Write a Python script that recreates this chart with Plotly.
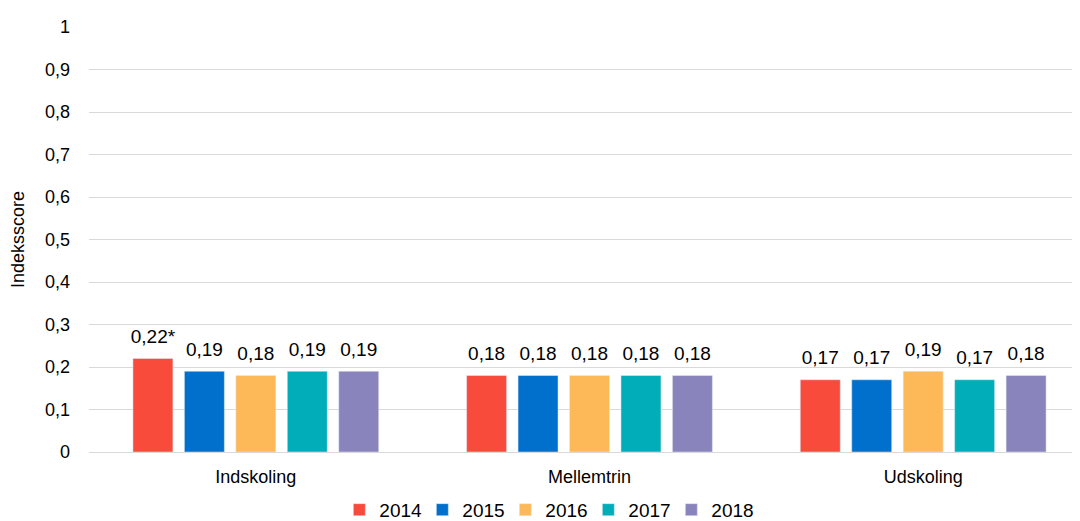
import plotly.graph_objects as go

categories = ['Indskoling', 'Mellemtrin', 'Udskoling']
years = ['2014', '2015', '2016', '2017', '2018']
values = {
    '2014': [0.22, 0.18, 0.17],
    '2015': [0.19, 0.18, 0.17],
    '2016': [0.18, 0.18, 0.19],
    '2017': [0.19, 0.18, 0.17],
    '2018': [0.19, 0.18, 0.18],
}
labels = {
    '2014': ['0,22*', '0,18', '0,17'],
    '2015': ['0,19', '0,18', '0,17'],
    '2016': ['0,18', '0,18', '0,19'],
    '2017': ['0,19', '0,18', '0,17'],
    '2018': ['0,19', '0,18', '0,18'],
}
colors = ['#F84B3C', '#0070CC', '#FDB858', '#00ADB8', '#8A84BC']

fig = go.Figure()
for year, color in zip(years, colors):
    fig.add_trace(go.Bar(
        name=year,
        x=categories,
        y=values[year],
        cliponaxis=False,
        marker=dict(color=color),
    ))

# value labels as grouped text points so they sit a bit higher above the bars
for year in years:
    fig.add_trace(go.Scatter(
        x=categories,
        y=values[year],
        text=labels[year],
        mode='markers+text',
        textposition='top center',
        textfont=dict(size=19, color='#000000'),
        marker=dict(size=16, color='rgba(0,0,0,0)'),
        showlegend=False,
        hoverinfo='skip',
        cliponaxis=False,
    ))

# page body has an 8px margin, so the figure is a bit smaller than the window
fig.update_layout(
    barmode='group',
    scattermode='group',
    bargap=0.229,
    scattergap=0.229,
    bargroupgap=0.223,
    separators=',.',
    width=1072,
    height=513,
    margin=dict(l=81, r=0, t=19, b=69, autoexpand=False),
    plot_bgcolor='white',
    paper_bgcolor='white',
    font=dict(family='Liberation Sans, Arial, sans-serif', size=18, color='#000000'),
    legend=dict(
        orientation='h',
        x=0.462,
        xanchor='center',
        y=-0.136,
        yanchor='middle',
        font=dict(size=19),
        entrywidth=38,
        entrywidthmode='pixels',
        traceorder='normal',
    ),
    yaxis=dict(
        title=dict(text='Indeksscore', font=dict(size=18), standoff=16),
        range=[0, 1],
        dtick=0.1,
        tickformat='.1~f',
        showgrid=True,
        gridcolor='#D9D9D9',
        gridwidth=1.3,
        zeroline=True,
        zerolinecolor='#D9D9D9',
        zerolinewidth=1.3,
        ticks='',
        ticklabelstandoff=18,
        automargin=False,
    ),
    xaxis=dict(
        range=[-0.5, 2.47],
        showline=False,
        ticks='',
        tickfont=dict(size=18),
        ticklabelstandoff=12,
        automargin=False,
    ),
)

fig.write_html('out.html')
